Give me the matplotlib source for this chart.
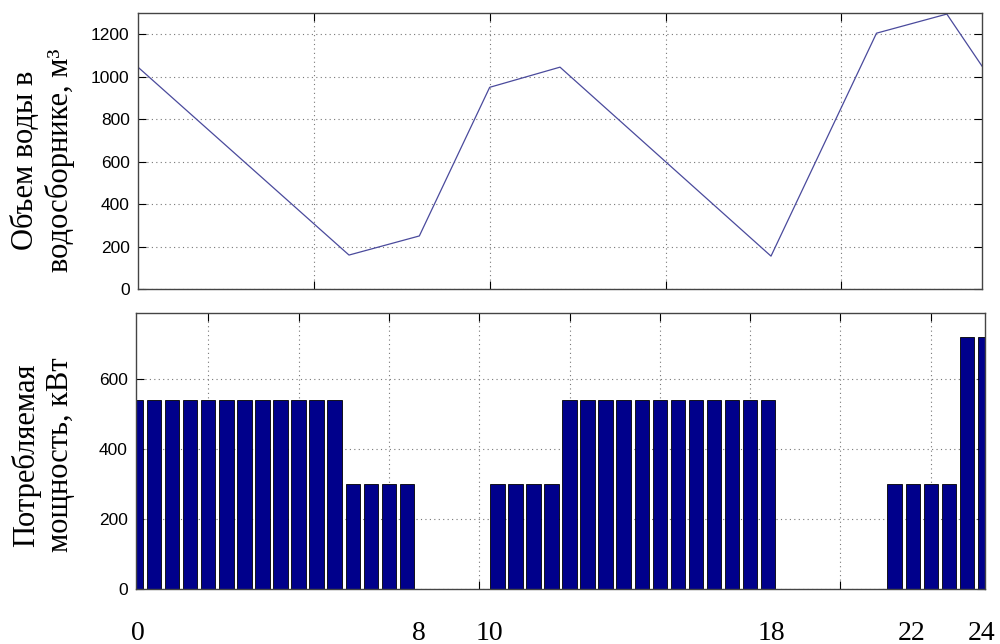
import matplotlib
matplotlib.use("Agg")
import matplotlib.pyplot as plt
import matplotlib.transforms as mtransforms
import numpy as np

# water volume in the reservoir (hours -> m3), breakpoints of the curve
hours_vol = [0, 6, 8, 10, 12, 18, 21, 23, 24]
volume = [1045, 160, 250, 950, 1045, 155, 1205, 1295, 1050]

# power consumption, 48 half-hour intervals (kW)
power = ([540] * 12 + [300] * 4 + [0] * 4 + [300] * 4 + [540] * 12
         + [0] * 6 + [300] * 4 + [720] * 2)

# hour labels below the chart
hour_labels = [0, 8, 10, 18, 22, 24]

serif = "Liberation Serif"
sans = "Liberation Sans"

fig = plt.figure(figsize=(10, 6.44), dpi=100)
ax1 = fig.add_axes([0.138, 0.5512, 0.844, 0.4286])
ax2 = fig.add_axes([0.136, 0.0854, 0.849, 0.4286])

#top plot - volume
ax1.plot(hours_vol, volume, color="#4a4a9c", linewidth=0.9)
ax1.set_xlim(0, 24)
ax1.set_ylim(0, 1300)
ax1.set_xticks([5, 10, 15, 20])
ax1.set_xticklabels([])
ax1.set_yticks(np.arange(0, 1201, 200))

#bottom plot - power bars
idx = np.arange(1, len(power) + 1)
ax2.bar(idx, power, width=0.8, color="#00008b", edgecolor="black", linewidth=0.6, zorder=2)
ax2.set_xlim(1, 48)
ax2.set_ylim(0, 788)
ax2.set_xticks(np.arange(5, 46, 5))
ax2.set_xticklabels([])
ax2.set_yticks([0, 200, 400, 600])

for ax in (ax1, ax2):
    ax.grid(True, linestyle=(0, (1, 3)), color="#777777", linewidth=0.8)
    ax.set_axisbelow(True)
    ax.tick_params(direction="in", length=6, top=True, right=True,
                   labelsize=12.5, colors="black", pad=6)
    for lab in ax.get_yticklabels():
        lab.set_family(sans)
    for sp in ax.spines.values():
        sp.set_color("#444444")
        sp.set_linewidth(1.0)

# y labels
fig.text(0.043, 1 - 160 / 644, "Объем воды в\nводосборнике, м³", rotation=90,
         ha="center", va="center", family=serif, fontsize=22, linespacing=1.25)
fig.text(0.043, 1 - 455 / 644, "Потребляемая\nмощность, кВт", rotation=90,
         ha="center", va="center", family=serif, fontsize=22, linespacing=1.25)

# hour labels
trans = mtransforms.blended_transform_factory(ax1.transData, fig.transFigure)
for h in hour_labels:
    fig.text(h, 0.017, str(h), transform=trans, ha="center", va="center",
             family=serif, fontsize=20)

plt.savefig("out.png", dpi=100)
